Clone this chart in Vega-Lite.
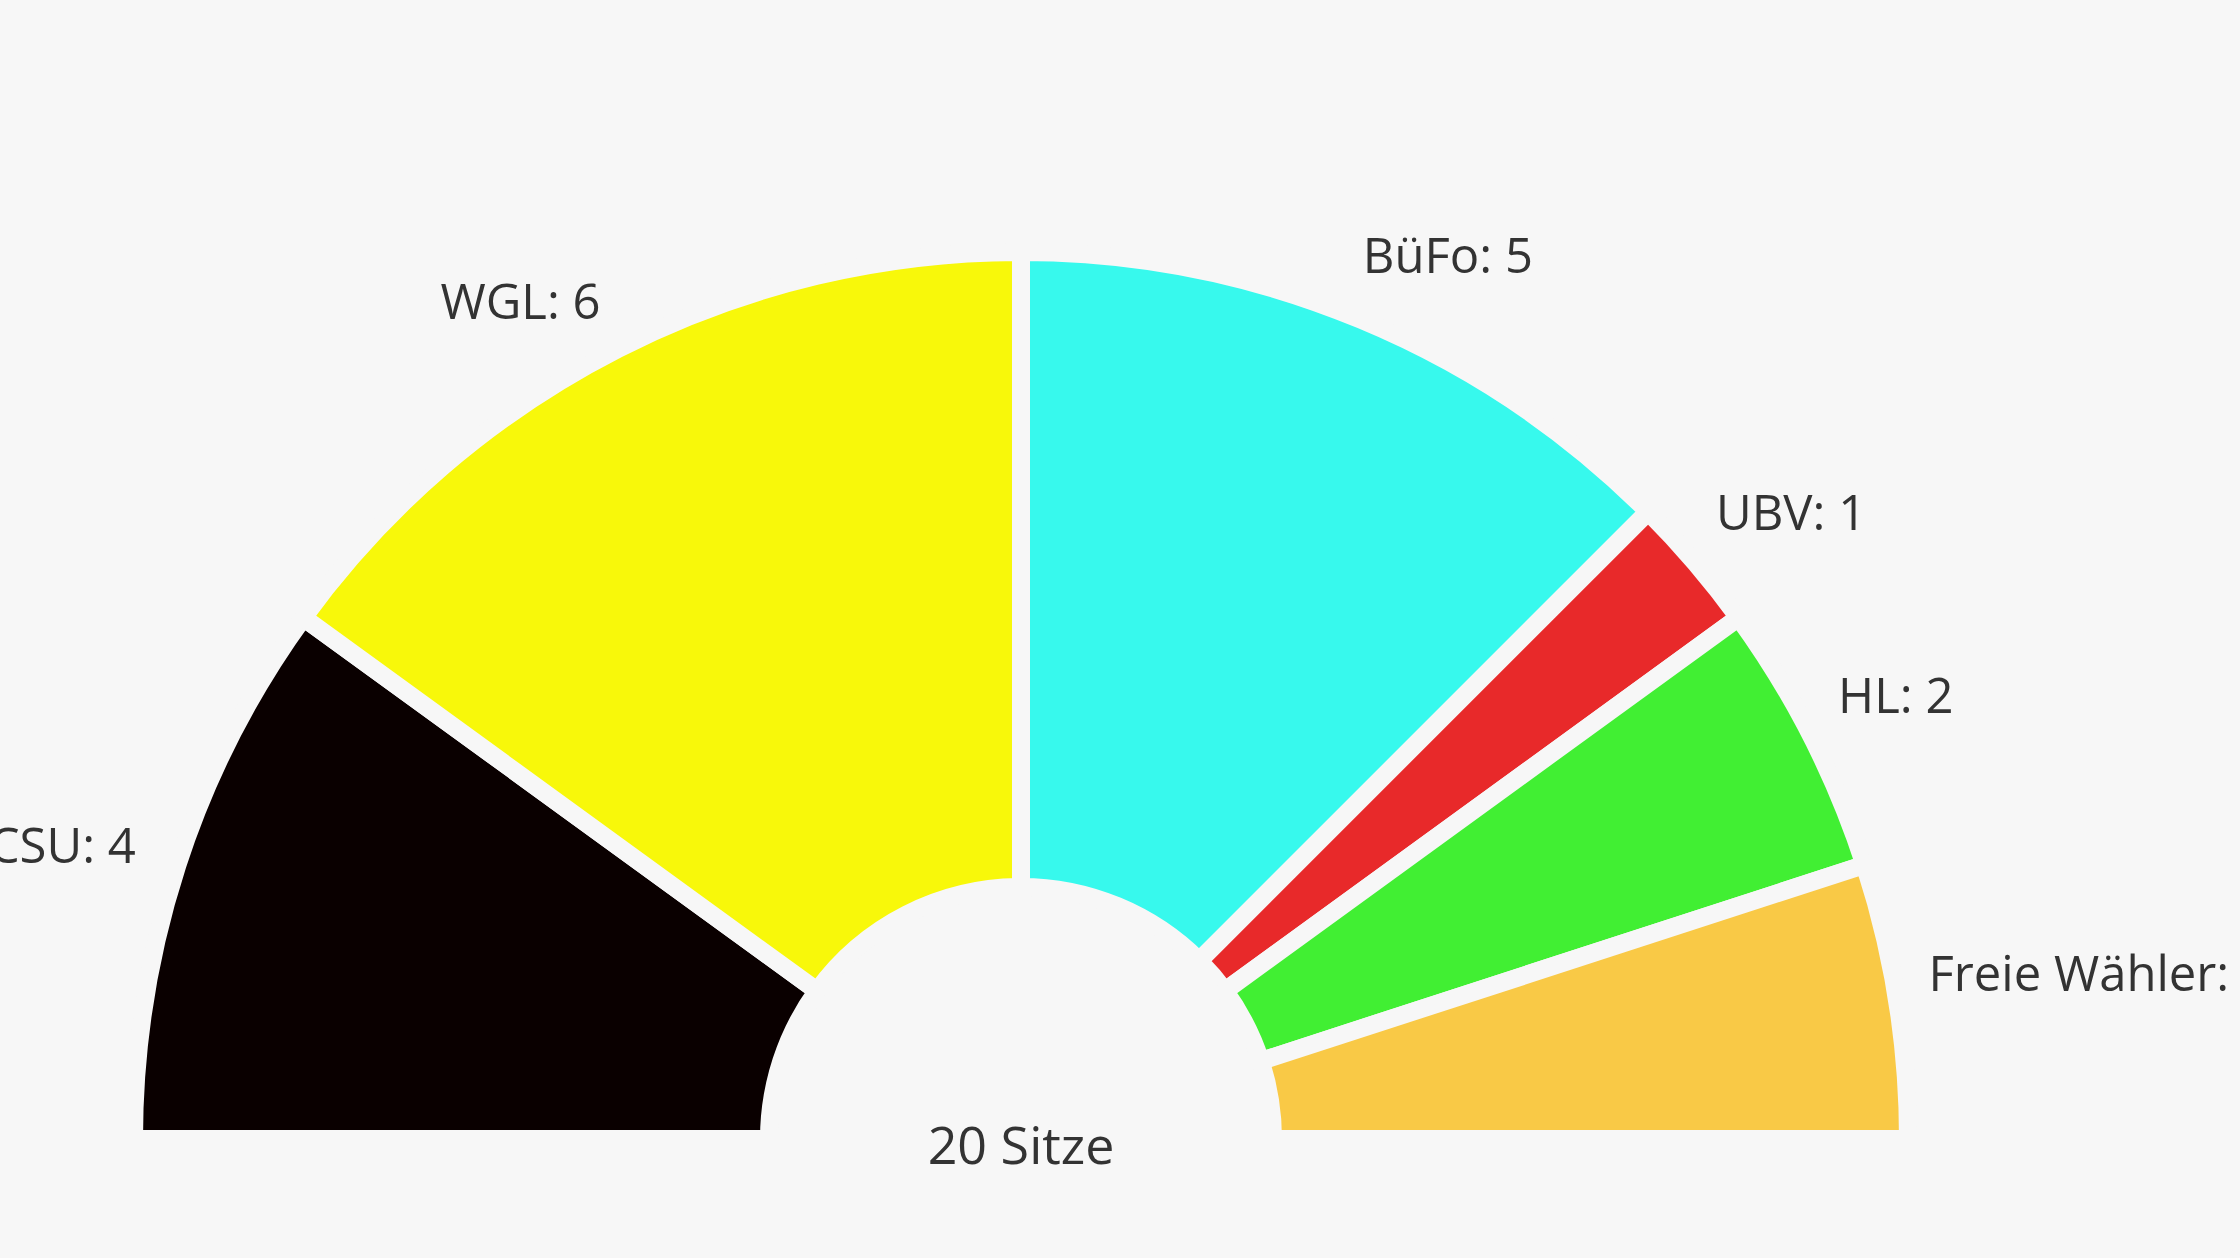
{
  "$schema": "https://vega.github.io/schema/vega-lite/v6.json",
  "width": 1800,
  "height": 200,
  "autosize": {"type": "none"},
  "padding": {"left": 121, "top": 1039, "right": 319, "bottom": 19},
  "background": "#f7f7f7",
  "config": {"view": {"stroke": null}, "text": {"font": "Open Sans"}},
  "data": {
    "values": [
      {"party": "CSU", "seats": 4},
      {"party": "WGL", "seats": 6},
      {"party": "BüFo", "seats": 5},
      {"party": "UBV", "seats": 1},
      {"party": "HL", "seats": 2},
      {"party": "Freie Wähler", "seats": 2}
    ]
  },
  "transform": [
    {"window": [{"op": "row_number", "as": "idx"}]},
    {"calculate": "datum.party + ': ' + datum.seats", "as": "label"}
  ],
  "layer": [
    {
      "mark": {"type": "arc", "radius": 887, "radius2": 252, "stroke": "#f7f7f7", "strokeWidth": 18},
      "encoding": {
        "theta": {"field": "seats", "type": "quantitative", "stack": true, "scale": {"range": [-1.5707963, 1.5707963]}},
        "color": {
          "field": "party", "type": "nominal", "legend": null,
          "scale": {
            "domain": ["CSU", "WGL", "BüFo", "UBV", "HL", "Freie Wähler"],
            "range": ["#0a0000", "#f8f80a", "#37f9ed", "#e8292a", "#41ef33", "#f9c946"]
          }
        },
        "order": {"field": "idx", "type": "quantitative"}
      }
    },
    {
      "mark": {"type": "text", "radius": 935, "align": "right", "baseline": "middle", "fontSize": 49, "fill": "#333333", "dx": 4, "dy": -2},
      "encoding": {
        "theta": {"field": "seats", "type": "quantitative", "stack": true},
        "detail": {"field": "party", "type": "nominal"},
        "order": {"field": "idx", "type": "quantitative"},
        "text": {"condition": {"test": "datum.party === 'CSU' || datum.party === 'WGL'", "field": "label", "type": "nominal"}, "value": ""}
      }
    },
    {
      "mark": {"type": "text", "radius": 935, "align": "left", "baseline": "middle", "fontSize": 49, "fill": "#333333", "dx": -16, "dy": -17},
      "encoding": {
        "theta": {"field": "seats", "type": "quantitative", "stack": true},
        "detail": {"field": "party", "type": "nominal"},
        "order": {"field": "idx", "type": "quantitative"},
        "text": {"condition": {"test": "datum.party !== 'CSU' && datum.party !== 'WGL'", "field": "label", "type": "nominal"}, "value": ""}
      }
    },
    {
      "transform": [
        {"aggregate": [{"op": "sum", "field": "seats", "as": "total"}]},
        {"calculate": "datum.total + ' Sitze'", "as": "sumlabel"}
      ],
      "mark": {"type": "text", "align": "center", "baseline": "middle", "fontSize": 52, "fill": "#333333", "dy": 9},
      "encoding": {
        "text": {"field": "sumlabel", "type": "nominal"}
      }
    }
  ]
}
